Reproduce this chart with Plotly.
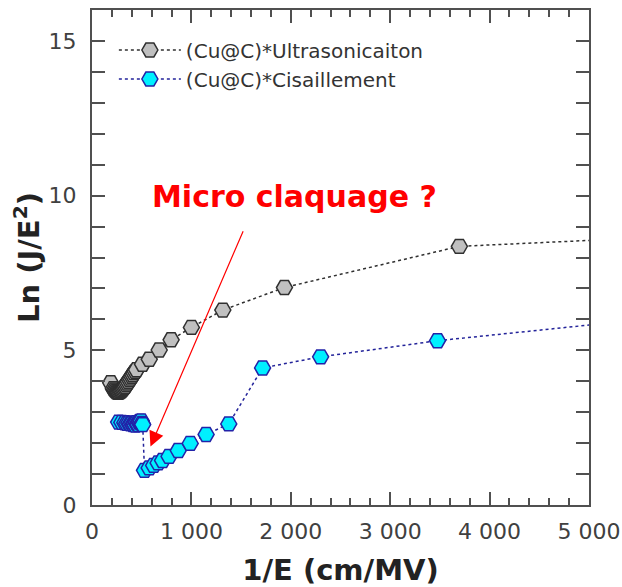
import plotly.graph_objects as go

# Data
ultra_x = [188, 215, 225, 235, 245, 255, 262, 270, 280, 290, 298, 307, 316, 325, 335, 345, 355, 366, 378, 389,
           400, 411, 422, 435, 448, 508, 576, 676, 796, 1000, 1316, 1936, 3696, 6000]
ultra_y = [3.95, 3.76, 3.72, 3.69, 3.66, 3.65, 3.64, 3.64, 3.66, 3.68, 3.70, 3.73, 3.76, 3.80, 3.84, 3.89, 3.94, 3.99, 4.05, 4.10,
           4.16, 4.21, 4.27, 4.32, 4.37, 4.55, 4.71, 5.01, 5.34, 5.74, 6.30, 7.03, 8.36, 8.70]

cis_x = [268, 300, 330, 350, 370, 385, 400, 412, 425, 435, 445, 455, 465, 472, 480, 488, 495, 503, 510,
         528, 575, 620, 665, 710, 775, 868, 988, 1148, 1376, 1716, 2300, 3476, 6000]
cis_y = [2.68, 2.67, 2.66, 2.64, 2.65, 2.62, 2.64, 2.60, 2.62, 2.58, 2.66, 2.62, 2.60, 2.68, 2.70, 2.66, 2.72, 2.64, 2.60,
         1.12, 1.20, 1.28, 1.36, 1.44, 1.57, 1.76, 1.99, 2.28, 2.62, 4.43, 4.79, 5.31, 6.15]

x_tickvals = [0, 1000, 2000, 3000, 4000, 5000]
x_ticktext = ["0", "1 000", "2 000", "3 000", "4 000", "5 000"]
y_tickvals = [0, 5, 10, 15]
y_ticktext = ["0", "5", "10", "15"]

FONT = "DejaVu Sans"
AX = "#505050"

fig = go.Figure()
fig.add_trace(go.Scatter(
    x=ultra_x, y=ultra_y, mode="lines+markers", name="(Cu@C)*Ultrasonicaiton",
    line=dict(color="#303030", width=1.5, dash="dot"),
    marker=dict(symbol="hexagon2", size=16, color="#c0c0c0", line=dict(color="#303030", width=1.5)),
    legend="legend", cliponaxis=True,
))
fig.add_trace(go.Scatter(
    x=cis_x, y=cis_y, mode="lines+markers", name="(Cu@C)*Cisaillement",
    line=dict(color="#23239a", width=1.5, dash="dot"),
    marker=dict(symbol="hexagon2", size=16, color="#00f0ff", line=dict(color="#2222a8", width=1.5)),
    legend="legend2", cliponaxis=True,
))

fig.add_annotation(x=588, y=1.89, ax=1527, ay=8.90, xref="x", yref="y", axref="x", ayref="y",
                   text="", showarrow=True, arrowhead=2, arrowsize=2.5, arrowwidth=1.2, arrowcolor="red")
fig.add_annotation(x=(295 - 92.5) / 496 * 5000, y=(505 - 196) / (495 / 16), xref="x", yref="y",
                   text="Micro claquage ?", showarrow=False,
                   font=dict(family=FONT, size=30, color="red", weight="bold"))

fig.update_xaxes(
    range=[0, 5000], tickvals=x_tickvals, ticktext=x_ticktext, ticks="inside", ticklen=13, tickwidth=1.5,
    tickcolor=AX, showline=True, linecolor=AX, linewidth=2, mirror="allticks", showgrid=False, zeroline=False,
    minor=dict(dtick=200, ticks="inside", ticklen=7, tickwidth=1.5, tickcolor=AX, showgrid=False),
    tickfont=dict(family=FONT, size=22, color="#404040"), ticklabelstandoff=6, automargin=False,
    title=dict(text="<b>1/E (cm/MV)</b>", font=dict(family=FONT, size=29, color="#222"), standoff=16),
)
fig.update_yaxes(
    range=[0, 16], tickvals=y_tickvals, ticktext=y_ticktext, ticks="inside", ticklen=13, tickwidth=1.5,
    tickcolor=AX, showline=True, linecolor=AX, linewidth=2, mirror="allticks", showgrid=False, zeroline=False,
    minor=dict(dtick=1, ticks="inside", ticklen=13, tickwidth=1.5, tickcolor=AX, showgrid=False),
    tickfont=dict(family=FONT, size=22, color="#404040"), ticklabelstandoff=9, automargin=False,
    title=dict(text="<b>Ln (J/E<sup>2</sup>)</b>", font=dict(family=FONT, size=29, color="#222"), standoff=0),
)

leg_common = dict(xanchor="left", yanchor="middle", bgcolor="rgba(0,0,0,0)",
                  font=dict(family=FONT, size=20, color="#333"), itemwidth=62)
fig.update_layout(
    width=622, height=587,
    margin=dict(l=92, r=33, t=10, b=82, autoexpand=False),
    plot_bgcolor="white", paper_bgcolor="white",
    legend=dict(x=0.044, y=(505 - 50) / 495, **leg_common),
    legend2=dict(x=0.044, y=(505 - 79) / 495, **leg_common),
    showlegend=True,
)

fig.write_html("out.html", config={"displayModeBar": False},
               post_script="document.body.style.margin='0';")
